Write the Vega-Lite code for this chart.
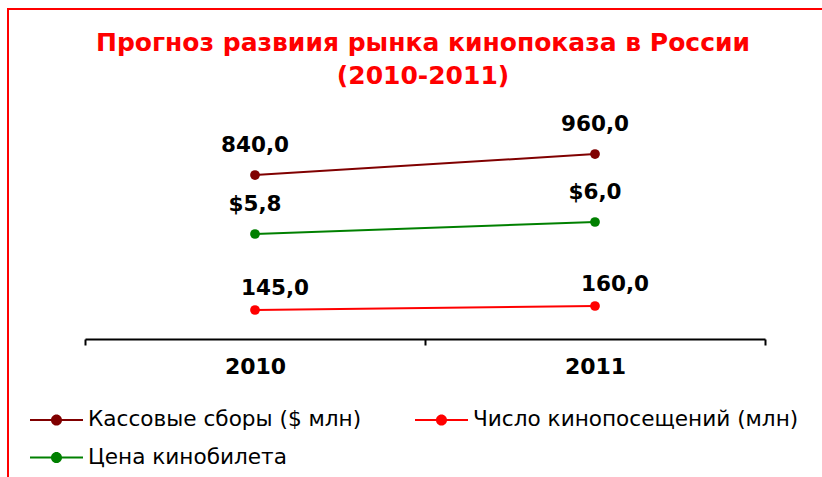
{
  "$schema": "https://vega.github.io/schema/vega-lite/v6.json",
  "autosize": {"type": "none"},
  "padding": {"left": 8, "top": 9, "right": 0, "bottom": 0},
  "width": 830,
  "height": 480,
  "background": "#FFFFFF",
  "title": {
    "text": ["Прогноз развиия рынка кинопоказа в России", "(2010-2011)"],
    "anchor": "middle",
    "frame": "group",
    "font": "DejaVu Sans",
    "fontSize": 25,
    "fontWeight": "bold",
    "color": "#FF0000",
    "lineHeight": 33,
    "baseline": "top",
    "offset": -80
  },
  "data": {
    "values": [
      {"year": "2010", "series": "Кассовые сборы ($ млн)", "value": 840},
      {"year": "2011", "series": "Кассовые сборы ($ млн)", "value": 960},
      {"year": "2010", "series": "Число кинопосещений (млн)", "value": 145},
      {"year": "2011", "series": "Число кинопосещений (млн)", "value": 160},
      {"year": "2010", "series": "Цена кинобилета", "value": 5.8},
      {"year": "2011", "series": "Цена кинобилета", "value": 6.0}
    ]
  },
  "encoding": {
    "x": {
      "field": "year",
      "type": "nominal",
      "scale": {"range": [77, 757], "paddingInner": 0, "paddingOuter": 0},
      "axis": {
        "title": null,
        "offset": -150,
        "labelAngle": 0,
        "labelFont": "DejaVu Sans",
        "labelFontSize": 22,
        "labelFontWeight": "bold",
        "labelColor": "#000000",
        "labelPadding": 11,
        "domainColor": "#000000",
        "domainWidth": 2,
        "tickColor": "#000000",
        "tickWidth": 2,
        "tickSize": 6,
        "tickBand": "extent",
        "grid": false
      }
    }
  },
  "layer": [
    {
      "transform": [{"filter": "datum.series === 'Кассовые сборы ($ млн)'"}],
      "encoding": {
        "y": {"field": "value", "type": "quantitative", "axis": null,
              "scale": {"domain": [-97.1, 1274.3], "range": [330, 90], "zero": false, "nice": false}}
      },
      "layer": [
        {
          "mark": {"type": "line", "strokeWidth": 2, "point": {"filled": true, "size": 95}},
          "encoding": {
            "color": {"field": "series", "type": "nominal",
              "scale": {"domain": ["Кассовые сборы ($ млн)", "Число кинопосещений (млн)", "Цена кинобилета"], "range": ["#800000", "#FF0000", "#008000"]},
              "legend": {"orient": "none", "legendX": 22, "legendY": 384, "columns": 2, "direction": "horizontal", "title": null,
                "symbolType": "M-1,-0.04H1V0.04H-1Z M0.21,0A0.21,0.21,0,1,1,-0.21,0A0.21,0.21,0,1,1,0.21,0Z",
                "symbolSize": 2809, "labelFont": "DejaVu Sans", "labelFontSize": 21.6, "labelColor": "#000000",
                "labelOffset": 5, "columnPadding": 53, "rowPadding": -25, "labelLimit": 500,
                "encode": {"symbols": {"update": {"fill": {"scale": "color", "field": "value"}, "strokeWidth": {"value": 0}, "opacity": {"value": 1}}}}}
            }
          }
        },
        {
          "mark": {"type": "text", "dy": -29, "font": "DejaVu Sans", "fontSize": 21.5, "fontWeight": "bold", "color": "#000000"},
          "encoding": {"text": {"field": "value", "type": "quantitative", "format": ".1f"}}
        }
      ]
    },
    {
      "transform": [{"filter": "datum.series === 'Цена кинобилета'"}],
      "encoding": {
        "y": {"field": "value", "type": "quantitative", "axis": null,
              "scale": {"domain": [4.05, 8.05], "range": [330, 90], "zero": false, "nice": false}}
      },
      "layer": [
        {
          "mark": {"type": "line", "strokeWidth": 2, "point": {"filled": true, "size": 95}},
          "encoding": {
            "color": {"field": "series", "type": "nominal",
              "scale": {"domain": ["Кассовые сборы ($ млн)", "Число кинопосещений (млн)", "Цена кинобилета"], "range": ["#800000", "#FF0000", "#008000"]},
              "legend": {"orient": "none", "legendX": 22, "legendY": 384, "columns": 2, "direction": "horizontal", "title": null,
                "symbolType": "M-1,-0.04H1V0.04H-1Z M0.21,0A0.21,0.21,0,1,1,-0.21,0A0.21,0.21,0,1,1,0.21,0Z",
                "symbolSize": 2809, "labelFont": "DejaVu Sans", "labelFontSize": 21.6, "labelColor": "#000000",
                "labelOffset": 5, "columnPadding": 53, "rowPadding": -25, "labelLimit": 500,
                "encode": {"symbols": {"update": {"fill": {"scale": "color", "field": "value"}, "strokeWidth": {"value": 0}, "opacity": {"value": 1}}}}}
            }
          }
        },
        {
          "mark": {"type": "text", "dy": -29, "font": "DejaVu Sans", "fontSize": 21.5, "fontWeight": "bold", "color": "#000000"},
          "encoding": {"text": {"field": "value", "type": "quantitative", "format": "$.1f"}}
        }
      ]
    },
    {
      "transform": [{"filter": "datum.series === 'Число кинопосещений (млн)'"}],
      "encoding": {
        "y": {"field": "value", "type": "quantitative", "axis": null,
              "scale": {"domain": [36.25, 936.25], "range": [330, 90], "zero": false, "nice": false}}
      },
      "layer": [
        {
          "mark": {"type": "line", "strokeWidth": 2, "point": {"filled": true, "size": 95}},
          "encoding": {
            "color": {"field": "series", "type": "nominal",
              "scale": {"domain": ["Кассовые сборы ($ млн)", "Число кинопосещений (млн)", "Цена кинобилета"], "range": ["#800000", "#FF0000", "#008000"]},
              "legend": {"orient": "none", "legendX": 22, "legendY": 384, "columns": 2, "direction": "horizontal", "title": null,
                "symbolType": "M-1,-0.04H1V0.04H-1Z M0.21,0A0.21,0.21,0,1,1,-0.21,0A0.21,0.21,0,1,1,0.21,0Z",
                "symbolSize": 2809, "labelFont": "DejaVu Sans", "labelFontSize": 21.6, "labelColor": "#000000",
                "labelOffset": 5, "columnPadding": 53, "rowPadding": -25, "labelLimit": 500,
                "encode": {"symbols": {"update": {"fill": {"scale": "color", "field": "value"}, "strokeWidth": {"value": 0}, "opacity": {"value": 1}}}}}
            }
          }
        },
        {
          "mark": {"type": "text", "dy": -21, "dx": 20, "font": "DejaVu Sans", "fontSize": 21.5, "fontWeight": "bold", "color": "#000000"},
          "encoding": {"text": {"field": "value", "type": "quantitative", "format": ".1f"}}
        }
      ]
    }
  ],
  "resolve": {"scale": {"y": "independent"}},
  "config": {
    "locale": {"number": {"decimal": ",", "thousands": " ", "grouping": [3], "currency": ["$", ""]}},
    "view": {"stroke": "#FF0000", "strokeWidth": 2}
  }
}
